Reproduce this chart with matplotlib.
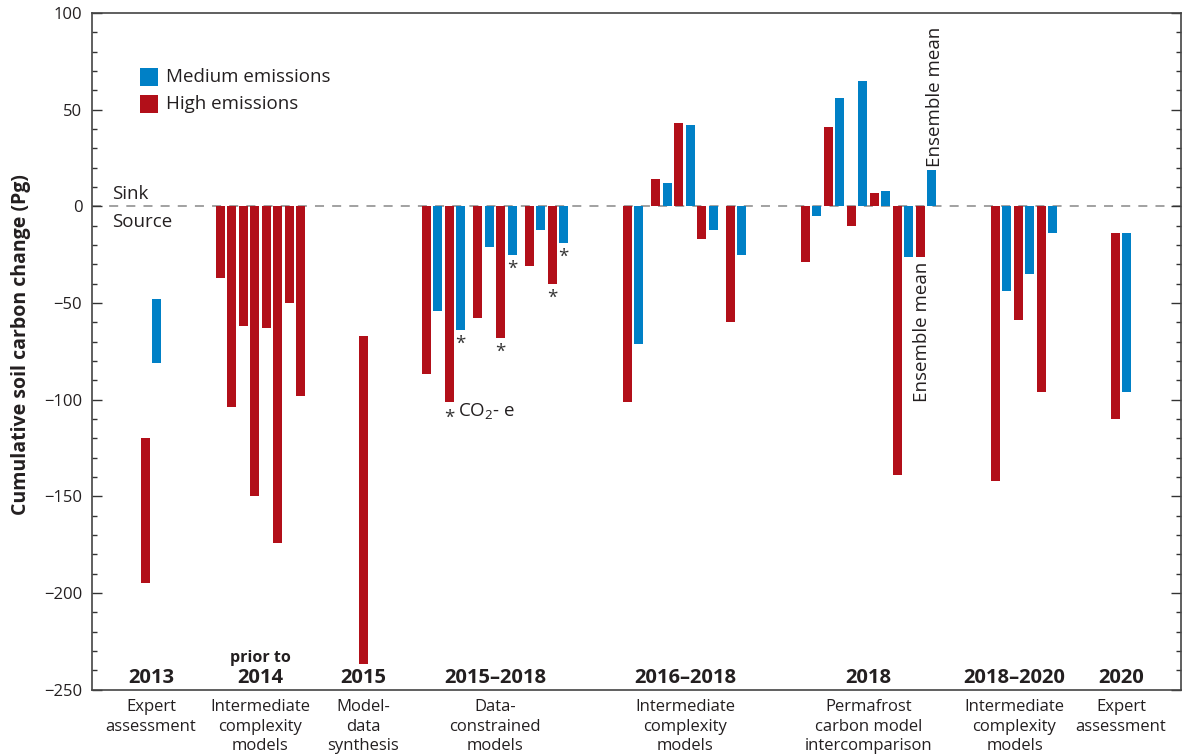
import matplotlib
matplotlib.use("Agg")
import matplotlib.pyplot as plt
from matplotlib.patches import Rectangle
from matplotlib.ticker import MultipleLocator

plt.rcParams['font.family'] = ['Open Sans', 'DejaVu Sans']
plt.rcParams['mathtext.fontset'] = 'custom'
plt.rcParams['mathtext.rm'] = 'Open Sans'

# ---- data (Pg) ----
years = ["2013", "2014", "2015", "2015–2018", "2016–2018", "2018", "2018–2020", "2020"]
methods = ["Expert\nassessment", "Intermediate\ncomplexity\nmodels", "Model-\ndata\nsynthesis",
           "Data-\nconstrained\nmodels", "Intermediate\ncomplexity\nmodels",
           "Permafrost\ncarbon model\nintercomparison", "Intermediate\ncomplexity\nmodels",
           "Expert\nassessment"]

# H = high emissions, M = medium emissions
series_2013 = "HM"
start_2013 = [-120, -48]
end_2013 = [-195, -81]

series_2014 = "H" * 8
start_2014 = [0, 0, 0, 0, 0, 0, 0, 0]
end_2014 = [-37, -104, -62, -150, -63, -174, -50, -98]

series_2015 = "H"
start_2015 = [-67]
end_2015 = [-237]

series_1518 = "HM" * 6
start_1518 = [0] * 12
end_1518 = [-87, -54, -101, -64, -58, -21, -68, -25, -31, -12, -40, -19]
co2e_1518 = [3, 6, 7, 10, 11]

series_1618 = "HM" * 5
start_1618 = [0] * 10
end_1618 = [-101, -71, 14, 12, 43, 42, -17, -12, -60, -25]

series_2018 = "HM" * 6
start_2018 = [0] * 12
end_2018 = [-29, -5, 41, 56, -10, 65, 7, 8, -139, -26, -26, 19]

series_1820 = "HM" * 3
start_1820 = [0] * 6
end_1820 = [-142, -44, -59, -35, -96, -14]

series_2020 = "HM"
start_2020 = [-14, -14]
end_2020 = [-110, -96]

group_series = [series_2013, series_2014, series_2015, series_1518,
                series_1618, series_2018, series_1820, series_2020]
group_start = [start_2013, start_2014, start_2015, start_1518,
               start_1618, start_2018, start_1820, start_2020]
group_end = [end_2013, end_2014, end_2015, end_1518,
             end_1618, end_2018, end_1820, end_2020]

# ---- layout (x in pixel-like units) ----
group_x0 = [145.5, 220.5, 363.5, 426.5, 627.5, 805.5, 995.5, 1115.5]
subgroups = [[2], [8], [1], [4, 4, 4], [2, 6, 2], [12], [6], [2]]
label_x = [151, 260, 363.5, 495, 685, 868.5, 1014.5, 1121]
step = 11.45
gap = 17
bar_w = 9

red = '#B20F19'
blue = '#0080C6'
txt = '#231F20'
colors = {'H': red, 'M': blue}

fig = plt.figure(figsize=(11.86, 7.56), dpi=100)
ax = fig.add_axes([92 / 1186, 1 - 689.6 / 756, 1089 / 1186, 676.6 / 756])

all_x = []
for g in range(len(years)):
    xs = []
    x = group_x0[g]
    for k, n in enumerate(subgroups[g]):
        if k > 0:
            x += gap - step
        for i in range(n):
            xs.append(x)
            x += step
    all_x.append(xs)
    s0 = group_start[g]
    s1 = group_end[g]
    ax.bar(xs, [b - a for a, b in zip(s0, s1)], bottom=s0, width=bar_w,
           color=[colors[c] for c in group_series[g]], linewidth=0, zorder=3)

ax.axhline(0, color='#9a9a9a', lw=1.3, ls=(0, (5, 4.5)), zorder=1)

# CO2-equivalent markers
for i in co2e_1518:
    ax.text(all_x[3][i], end_1518[i] - 2.6, "*", ha='center', va='top',
            fontsize=13.5, color='#333333', zorder=4)
ax.text(449, -105, "*", ha='center', va='top', fontsize=13.5, color='#333333')
ax.text(458, -108.8, r"CO$_2$- e", ha='left', va='baseline', fontsize=13.5, color=txt)

# ensemble means
ax.text(935, end_2018[11] + 1.5, "Ensemble mean", rotation=90, ha='center', va='bottom',
        fontsize=13.5, color=txt)
ax.text(922, end_2018[10] - 2.8, "Ensemble mean", rotation=90, ha='center', va='top',
        fontsize=13.5, color=txt)

# sink / source
ax.text(112.5, 3.6, "Sink", ha='left', va='baseline', fontsize=13.5, color=txt)
ax.text(112.5, -10.6, "Source", ha='left', va='baseline', fontsize=13.5, color=txt)

# legend
for yb, c, lab in [(62.2, blue, "Medium emissions"), (48.2, red, "High emissions")]:
    ax.add_patch(Rectangle((140, yb), 18, 9.3, color=c, lw=0, zorder=3))
    ax.text(165.5, yb + 4.65, lab, ha='left', va='center', fontsize=13.5, color=txt)

# year labels
for lx, yr in zip(label_x, years):
    ax.text(lx, -246.8, yr, ha='center', va='baseline', fontsize=14.5,
            fontweight='bold', color=txt)
ax.text(label_x[1], -235.5, "prior to", ha='center', va='baseline', fontsize=11.5,
        fontweight='bold', color=txt)

ax.set_xlim(92, 1181)
ax.set_ylim(-250, 100)
ax.set_xticks(label_x)
ax.set_xticklabels(methods, fontsize=12, color=txt, linespacing=1.28)
ax.tick_params(axis='x', length=0, pad=7)

ax.yaxis.set_major_locator(MultipleLocator(50))
ax.yaxis.set_minor_locator(MultipleLocator(10))
ax.tick_params(axis='y', which='both', direction='in', left=True, right=True,
               labelsize=12, labelcolor=txt, color='#333333', pad=7)
ax.tick_params(axis='y', which='major', length=7.2, width=1)
ax.tick_params(axis='y', which='minor', length=3.6, width=1)

for sp in ax.spines.values():
    sp.set_color('#444444')
    sp.set_linewidth(1.2)

fig.text(21 / 1186, 1 - 345 / 756, "Cumulative soil carbon change (Pg)", rotation=90,
         ha='center', va='center', fontsize=14, fontweight='bold', color=txt)

fig.savefig("out.png", dpi=100)
